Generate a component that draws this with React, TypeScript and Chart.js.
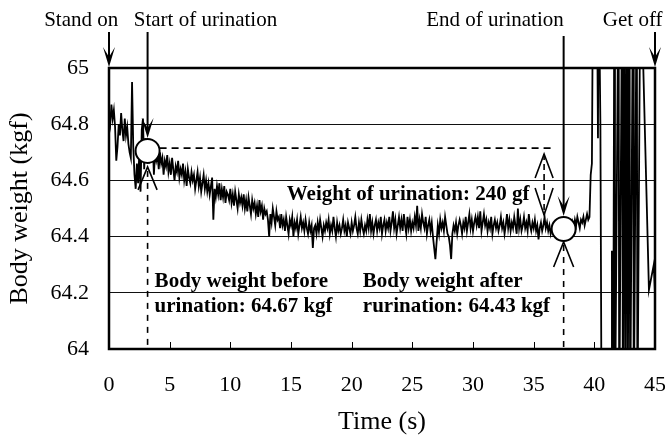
import React, { useEffect, useRef } from 'react';
import { Chart, registerables } from 'chart.js';

Chart.register(...registerables);

const FONT = "'Liberation Serif', 'Times New Roman', Times, serif";

// sampling interval of the scale recording (s)
const sampleStep = 0.1;

// body weight trace (kgf), one value every 0.1 s from 0.0 s to 39.6 s
const weightTrace: number[] = [
  64.83, 64.80, 64.87, 64.82, 64.85, 64.79, 64.67, 64.72, 64.80, 64.76,
  64.84, 64.78, 64.74, 64.82, 64.76, 64.79, 64.73, 64.70, 64.68, 64.95,
  64.72, 64.62, 64.57, 64.66, 64.59, 64.70, 64.56, 64.78, 64.82, 64.64,
  64.75, 64.68, 64.73, 64.66, 64.72, 64.69, 64.74, 64.62, 64.70, 64.67,
  64.69, 64.64, 64.70, 64.66, 64.68, 64.62, 64.67, 64.65, 64.69, 64.63,
  64.66, 64.62, 64.68, 64.64, 64.60, 64.65, 64.63, 64.67, 64.61, 64.64,
  64.62, 64.66, 64.60, 64.63, 64.58, 64.64, 64.61, 64.59, 64.63, 64.60,
  64.62, 64.57, 64.60, 64.63, 64.58, 64.61, 64.56, 64.59, 64.62, 64.57,
  64.60, 64.56, 64.59, 64.55, 64.58, 64.61, 64.46, 64.57, 64.54, 64.58,
  64.55, 64.59, 64.53, 64.57, 64.54, 64.58, 64.52, 64.56, 64.55, 64.53,
  64.57, 64.52, 64.55, 64.51, 64.56, 64.53, 64.50, 64.55, 64.52, 64.54,
  64.51, 64.55, 64.50, 64.53, 64.49, 64.54, 64.51, 64.48, 64.53, 64.50,
  64.52, 64.48, 64.51, 64.47, 64.53, 64.49, 64.51, 64.46, 64.50, 64.48,
  64.49, 64.46, 64.40, 64.48, 64.45, 64.50, 64.47, 64.44, 64.49, 64.46,
  64.47, 64.43, 64.48, 64.44, 64.46, 64.42, 64.47, 64.44, 64.41, 64.46,
  64.44, 64.47, 64.40, 64.45, 64.43, 64.46, 64.41, 64.44, 64.47, 64.43,
  64.45, 64.42, 64.46, 64.43, 64.41, 64.45, 64.42, 64.44, 64.36, 64.43,
  64.44, 64.41, 64.45, 64.42, 64.46, 64.43, 64.40, 64.44, 64.42, 64.45,
  64.43, 64.46, 64.41, 64.44, 64.42, 64.47, 64.43, 64.40, 64.45, 64.42,
  64.44, 64.41, 64.43, 64.46, 64.42, 64.44, 64.40, 64.45, 64.43, 64.41,
  64.45, 64.42, 64.44, 64.47, 64.43, 64.41, 64.45, 64.42, 64.46, 64.43,
  64.41, 64.44, 64.42, 64.46, 64.43, 64.48, 64.42, 64.45, 64.41, 64.44,
  64.46, 64.42, 64.45, 64.43, 64.47, 64.41, 64.44, 64.46, 64.42, 64.45,
  64.43, 64.47, 64.42, 64.45, 64.49, 64.43, 64.46, 64.41, 64.44, 64.47,
  64.43, 64.46, 64.42, 64.48, 64.44, 64.41, 64.47, 64.43, 64.46, 64.42,
  64.45, 64.43, 64.47, 64.44, 64.51, 64.42, 64.46, 64.43, 64.48, 64.45,
  64.43, 64.47, 64.41, 64.44, 64.46, 64.42, 64.45, 64.40, 64.36, 64.32,
  64.38, 64.44, 64.41, 64.46, 64.43, 64.45, 64.42, 64.47, 64.44, 64.41,
  64.40, 64.37, 64.32, 64.41, 64.44, 64.42, 64.45, 64.41, 64.44, 64.46,
  64.44, 64.41, 64.45, 64.43, 64.47, 64.42, 64.45, 64.48, 64.43, 64.46,
  64.42, 64.45, 64.47, 64.44, 64.47, 64.43, 64.49, 64.42, 64.45, 64.48,
  64.44, 64.46, 64.42, 64.45, 64.43, 64.47, 64.41, 64.44, 64.46, 64.43,
  64.45, 64.42, 64.44, 64.47, 64.43, 64.45, 64.41, 64.44, 64.48, 64.43,
  64.46, 64.42, 64.45, 64.43, 64.47, 64.44, 64.41, 64.50, 64.43, 64.46,
  64.42, 64.44, 64.47, 64.43, 64.45, 64.42, 64.48, 64.44, 64.42, 64.45,
  64.43, 64.46, 64.42, 64.44, 64.39, 64.43, 64.45, 64.42, 64.44, 64.47,
  64.43, 64.45, 64.42, 64.44, 64.41, 64.43, 64.42, 64.44, 64.41, 64.43,
  64.42, 64.44, 64.41, 64.43, 64.42, 64.40, 64.43, 64.41, 64.44, 64.42,
  64.44, 64.42, 64.45, 64.43, 64.46, 64.44, 64.47, 64.45, 64.43, 64.46,
  64.45, 64.47, 64.44, 64.46, 64.48, 64.46, 64.47,
];

// stepping off the scale: irregular readings (s, kgf)
const tailTimes: number[] = [
  39.7, 39.8, 39.9, 40.2, 40.3, 40.35, 40.5, 40.6, 41.4, 41.45, 41.55, 41.65,
  41.7, 42.0, 42.05, 42.3, 42.35, 42.5, 42.55, 42.7, 42.75, 42.9, 42.95, 43.2,
  43.25, 43.5, 43.55, 43.8, 44.5, 44.9, 45.0,
];
const tailWeights: number[] = [
  64.62, 64.66, 65.4, 65.4, 64.75, 65.4, 64.8, 63.7, 63.7, 64.35, 63.7, 65.4,
  63.7, 65.4, 63.7, 65.4, 63.7, 65.4, 63.7, 65.4, 63.7, 65.4, 63.7, 65.4,
  63.7, 65.4, 63.7, 65.4, 64.21, 64.3, 64.2,
];

const xTickValues: number[] = [0, 5, 10, 15, 20, 25, 30, 35, 40, 45];
const yTickValues: number[] = [64, 64.2, 64.4, 64.6, 64.8, 65];

// annotation anchors (data units)
const startTime = 3.18;
const startWeight = 64.705;
const endTime = 37.47;
const endWeight = 64.427;
const beforeLevel = 64.715;
const levelLineEnd = 36.76;
const diffArrowTime = 35.86;
const diffArrowTop = 64.694;
const diffArrowBottom = 64.477;
const standOnTime = 0;
const getOffTime = 45;

const topLabels = [
  { text: 'Stand on', t: -2.29 },
  { text: 'Start of urination', t: 7.95 },
  { text: 'End of urination', t: 31.81 },
  { text: 'Get off', t: 43.16 },
];
const innerLabels = [
  { text: 'Weight of urination: 240 gf', t: 14.65, w: 64.53 },
  { text: 'Body weight before', t: 3.76, w: 64.221 },
  { text: 'urination: 64.67 kgf', t: 3.76, w: 64.132 },
  { text: 'Body weight after', t: 20.92, w: 64.221 },
  { text: 'rurination: 64.43 kgf', t: 20.92, w: 64.132 },
];

function filledArrowDown(ctx: CanvasRenderingContext2D, x: number, y0: number, tip: number) {
  ctx.beginPath();
  ctx.moveTo(x, y0);
  ctx.lineTo(x, tip - 8);
  ctx.lineWidth = 2;
  ctx.setLineDash([]);
  ctx.stroke();
  ctx.beginPath();
  ctx.moveTo(x, tip);
  ctx.lineTo(x - 6, tip - 20);
  ctx.lineTo(x, tip - 10);
  ctx.lineTo(x + 6, tip - 20);
  ctx.closePath();
  ctx.fill();
}

function openHead(ctx: CanvasRenderingContext2D, x: number, apex: number, half: number, len: number) {
  ctx.beginPath();
  ctx.moveTo(x - half, apex + len);
  ctx.lineTo(x, apex);
  ctx.lineTo(x + half, apex + len);
  ctx.setLineDash([]);
  ctx.lineWidth = 1.6;
  ctx.stroke();
}

function dashedLine(ctx: CanvasRenderingContext2D, x0: number, y0: number, x1: number, y1: number, dash: number[]) {
  ctx.beginPath();
  ctx.setLineDash(dash);
  ctx.lineWidth = 1.6;
  ctx.moveTo(x0, y0);
  ctx.lineTo(x1, y1);
  ctx.stroke();
  ctx.setLineDash([]);
}

function circle(ctx: CanvasRenderingContext2D, x: number, y: number, r: number) {
  ctx.beginPath();
  ctx.arc(x, y, r, 0, Math.PI * 2);
  ctx.fillStyle = '#fff';
  ctx.fill();
  ctx.lineWidth = 2;
  ctx.strokeStyle = '#000';
  ctx.stroke();
  ctx.fillStyle = '#000';
}

const annotationPlugin = {
  id: 'urinationAnnotations',
  afterDatasetsDraw(chart: any) {
    const { ctx, chartArea: a, scales } = chart;
    const xs = scales.x;
    const ys = scales.y;
    const px = (t: number) => xs.getPixelForValue(t);
    const py = (w: number) => ys.getPixelForValue(w);
    ctx.save();
    ctx.strokeStyle = '#000';
    ctx.fillStyle = '#000';

    // inward tick marks on the time axis
    ctx.lineWidth = 1;
    for (const v of xTickValues) {
      if (v <= 0 || v >= 45) continue;
      const x = Math.round(px(v)) + 0.5;
      ctx.beginPath();
      ctx.moveTo(x, a.bottom);
      ctx.lineTo(x, a.bottom - 7);
      ctx.stroke();
    }

    // frame
    ctx.lineWidth = 2.5;
    ctx.strokeRect(a.left, a.top, a.right - a.left, a.bottom - a.top);

    const r = 12;
    const sx = px(startTime), sy = py(startWeight);
    const ex = px(endTime), ey = py(endWeight);

    // level before urination
    dashedLine(ctx, sx + r, py(beforeLevel), px(levelLineEnd), py(beforeLevel), [7, 5]);

    // start: dashed drop line and open head
    dashedLine(ctx, sx, sy + r + 8, sx, a.bottom, [6, 6]);
    openHead(ctx, sx, sy + r + 4, 9.5, 23);

    // end: dashed drop line and open head
    dashedLine(ctx, ex, ey + r + 4, ex, a.bottom, [6, 6]);
    openHead(ctx, ex, ey + r + 1, 10, 25);

    // weight difference double arrow
    const dx = px(diffArrowTime);
    const dTop = py(diffArrowTop);
    const dBot = py(diffArrowBottom);
    dashedLine(ctx, dx, dTop, dx, dBot, [6, 4]);
    openHead(ctx, dx, dTop, 9, 24);
    openHead(ctx, dx, dBot, 9, -27);

    // circles
    circle(ctx, sx, sy, r);
    circle(ctx, ex, ey, r);

    // event arrows from the top labels
    filledArrowDown(ctx, px(standOnTime), 32, a.top - 1);
    filledArrowDown(ctx, sx, 32, sy - r - 1);
    filledArrowDown(ctx, ex, 36, ey - r - 1);
    filledArrowDown(ctx, px(getOffTime), 32, a.top - 1);

    // labels
    ctx.fillStyle = '#000';
    ctx.textBaseline = 'alphabetic';
    ctx.font = `21px ${FONT}`;
    ctx.textAlign = 'center';
    for (const l of topLabels) ctx.fillText(l.text, px(l.t), 26);
    ctx.font = `bold 21px ${FONT}`;
    ctx.textAlign = 'left';
    for (const l of innerLabels) ctx.fillText(l.text, px(l.t), py(l.w));

    ctx.restore();
  },
};

export default function App() {
  const canvasRef = useRef<HTMLCanvasElement | null>(null);

  useEffect(() => {
    const canvas = canvasRef.current;
    if (!canvas) return;
    const points = weightTrace
      .map((w, i) => ({ x: Math.round(i * sampleStep * 10) / 10, y: w }))
      .concat(tailTimes.map((t, i) => ({ x: t, y: tailWeights[i] })));

    const chart = new Chart(canvas, {
      type: 'line',
      data: {
        datasets: [
          {
            label: 'Body weight',
            data: points,
            borderColor: '#000',
            borderWidth: 1.8,
            pointRadius: 0,
            tension: 0,
            fill: false,
          },
        ],
      },
      options: {
        animation: false,
        responsive: false,
        maintainAspectRatio: false,
        devicePixelRatio: 1,
        layout: { padding: { top: 68, right: 10, left: 0, bottom: 0 } },
        plugins: { legend: { display: false }, tooltip: { enabled: false } },
        scales: {
          x: {
            type: 'linear',
            min: 0,
            max: 45,
            afterFit: (s: any) => {
              s.height = 86;
              s.paddingLeft = 0;
              s.paddingRight = 0;
            },
            afterBuildTicks: (s: any) => { s.ticks = xTickValues.map((v) => ({ value: v })); },
            grid: { display: false, drawTicks: false },
            border: { display: false },
            ticks: {
              font: { family: FONT, size: 22 },
              color: '#000',
              padding: 23,
              maxRotation: 0,
              autoSkip: false,
              callback: (v: any) => String(v),
            },
            title: {
              display: true,
              text: 'Time (s)',
              color: '#000',
              font: { family: FONT, size: 26, lineHeight: 1 },
              padding: { top: 0, bottom: 0 },
            },
          },
          y: {
            type: 'linear',
            min: 64,
            max: 65,
            afterFit: (s: any) => {
              s.width = 109;
              s.paddingTop = 0;
              s.paddingBottom = 0;
            },
            afterBuildTicks: (s: any) => { s.ticks = yTickValues.map((v) => ({ value: v })); },
            grid: { color: '#111', lineWidth: 1, drawTicks: false },
            border: { display: false },
            ticks: {
              font: { family: FONT, size: 22 },
              color: '#000',
              padding: 20,
              autoSkip: false,
              callback: (v: any) => String(Math.round(Number(v) * 10) / 10),
            },
            title: {
              display: true,
              text: 'Body weight (kgf)',
              color: '#000',
              font: { family: FONT, size: 26, lineHeight: 1 },
              padding: { top: 7, bottom: 0 },
            },
          },
        },
      },
      plugins: [annotationPlugin],
    } as any);

    return () => chart.destroy();
  }, []);

  return (
    <div style={{ position: 'absolute', left: 0, top: 0, width: 665, height: 435, background: '#fff' }}>
      <canvas ref={canvasRef} width={665} height={435} style={{ width: 665, height: 435, display: 'block' }} />
    </div>
  );
}
